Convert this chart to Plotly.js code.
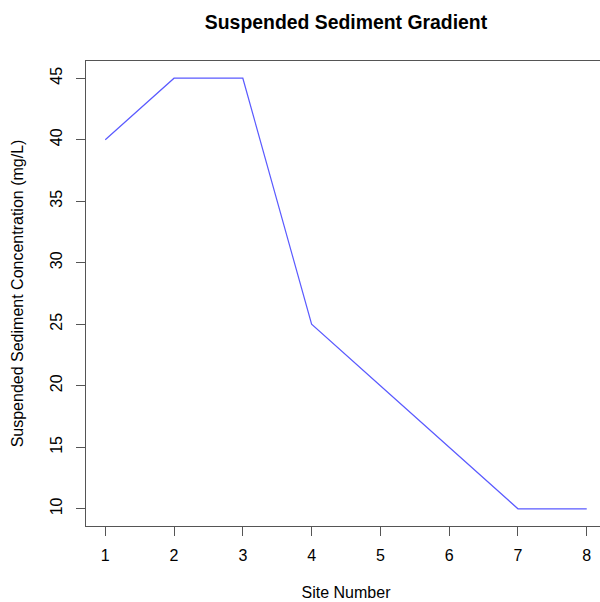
<!DOCTYPE html>
<html>
<head>
<meta charset="utf-8">
<script src="https://cdn.plot.ly/plotly-3.0.1.min.js"></script>
<style>
html, body { margin: 0; padding: 0; overflow: hidden; background: #fff; }
#chart { width: 620px; height: 602px; }
</style>
</head>
<body>
<div id="chart"></div>
<script>
const siteNumbers = [1, 2, 3, 4, 5, 6, 7, 8];
const concentrations = [40, 45, 45, 25, 20, 15, 10, 10];
const xTicks = [1, 2, 3, 4, 5, 6, 7, 8];
const yTicks = [10, 15, 20, 25, 30, 35, 40, 45];

const font = 'Liberation Sans, Arial, Helvetica, sans-serif';

const trace = {
  x: siteNumbers,
  y: concentrations,
  type: 'scatter',
  mode: 'lines',
  line: { color: '#5a5aff', width: 1.2 },
  hoverinfo: 'skip'
};

const layout = {
  width: 620,
  height: 602,
  margin: { l: 86, r: 14, t: 61, b: 76, pad: 0 },
  paper_bgcolor: '#ffffff',
  plot_bgcolor: '#ffffff',
  showlegend: false,
  font: { family: font, size: 16, color: '#000' },
  title: {
    text: '<b>Suspended Sediment Gradient</b>',
    font: { family: font, size: 19.4, color: '#000' },
    x: 0.5, xref: 'paper', xanchor: 'center',
    y: 1 - 22 / 602, yanchor: 'middle'
  },
  xaxis: {
    range: [0.72, 8.28],
    tickvals: xTicks,
    ticktext: xTicks.map(String),
    ticks: 'outside', ticklen: 9, tickwidth: 1, tickcolor: '#555',
    ticklabelstandoff: 6,
    showgrid: false, zeroline: false,
    showline: true, linecolor: '#555', linewidth: 1, mirror: true,
    tickfont: { family: font, size: 16, color: '#000' },
    title: { text: 'Site Number', font: { family: font, size: 16, color: '#000' }, standoff: 23 }
  },
  yaxis: {
    range: [8.6, 46.4],
    tickvals: yTicks,
    ticktext: yTicks.map(String),
    tickangle: -90,
    ticks: 'outside', ticklen: 9, tickwidth: 1, tickcolor: '#555',
    ticklabelstandoff: 8,
    showgrid: false, zeroline: false,
    showline: true, linecolor: '#555', linewidth: 1, mirror: true,
    tickfont: { family: font, size: 16, color: '#000' },
    title: { text: 'Suspended Sediment Concentration (mg/L)', font: { family: font, size: 16, color: '#000' }, standoff: 19 }
  }
};

Plotly.newPlot('chart', [trace], layout, { staticPlot: true, displayModeBar: false });
</script>
</body>
</html>
